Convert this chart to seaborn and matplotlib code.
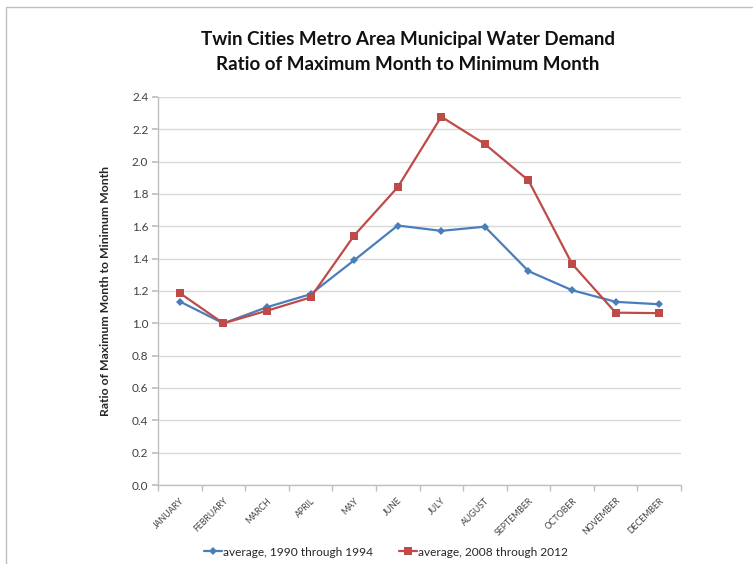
import matplotlib
matplotlib.use("Agg")
import matplotlib.pyplot as plt
from matplotlib.patches import Rectangle
from matplotlib.ticker import FixedLocator, MultipleLocator
import numpy as np
import pandas as pd
import seaborn as sns

months = ["JANUARY", "FEBRUARY", "MARCH", "APRIL", "MAY", "JUNE", "JULY",
          "AUGUST", "SEPTEMBER", "OCTOBER", "NOVEMBER", "DECEMBER"]
ratio_1990_1994 = [1.135, 1.00, 1.10, 1.18, 1.39, 1.605, 1.572, 1.598, 1.323, 1.205, 1.133, 1.118]
ratio_2008_2012 = [1.187, 1.00, 1.078, 1.16, 1.543, 1.842, 2.278, 2.109, 1.884, 1.368, 1.066, 1.063]
series_names = ["average, 1990 through 1994", "average, 2008 through 2012"]

df = pd.concat([
    pd.DataFrame({"month": np.arange(len(months)), "ratio": ratio_1990_1994, "series": series_names[0]}),
    pd.DataFrame({"month": np.arange(len(months)), "ratio": ratio_2008_2012, "series": series_names[1]}),
])

sns.set_theme(style="white")
plt.rcParams["font.family"] = ["Lato", "DejaVu Sans"]

fig = plt.figure(figsize=(7.53, 5.64), dpi=100)
ax = fig.add_axes([158 / 753, 1 - 485 / 564, (681 - 158) / 753, (485 - 97) / 564])

# outer chart frame
fig.patches.append(Rectangle((6 / 753, -0.1), 1.2, 1 - 7 / 564 + 0.1, transform=fig.transFigure,
                             fill=False, edgecolor="#BFBFBF", linewidth=1.0))

palette = {series_names[0]: "#4A7EBB", series_names[1]: "#BE4B48"}
sns.lineplot(data=df, x="month", y="ratio", hue="series", style="series",
             markers={series_names[0]: "D", series_names[1]: "s"}, dashes=False,
             palette=palette, linewidth=1.6, ax=ax, legend=False)
for line, ms in zip(ax.lines, [4, 5.5]):
    line.set_markersize(ms)
    line.set_markeredgewidth(0)

ax.set_xlim(-0.5, 11.5)
ax.set_ylim(0, 2.4)
ax.yaxis.set_major_locator(MultipleLocator(0.2))
ax.yaxis.set_major_formatter(matplotlib.ticker.FormatStrFormatter("%.1f"))
ax.grid(axis="y", color="#D9D9D9", linewidth=1.0)
ax.set_axisbelow(True)

ax.set_xticks(np.arange(len(months)))
ax.set_xticklabels(months, rotation=45, ha="right", va="top", rotation_mode="anchor",
                   fontsize=6.3, color="#404040")
ax.xaxis.set_minor_locator(FixedLocator(np.arange(-0.5, 12, 1)))
ax.tick_params(axis="x", which="major", length=0, pad=8)
ax.tick_params(axis="x", which="minor", length=4, color="#BFBFBF", bottom=True)
ax.tick_params(axis="y", length=4, color="#BFBFBF", left=True, labelsize=8.5, labelcolor="#404040", pad=3)

for side in ["top", "right"]:
    ax.spines[side].set_visible(False)
for side in ["left", "bottom"]:
    ax.spines[side].set_color("#BFBFBF")
    ax.spines[side].set_linewidth(1.0)

ax.set_xlabel("")
ax.set_ylabel("Ratio of Maximum Month to Minimum Month", fontsize=8.8, fontweight="bold", labelpad=15)

fig.text(408 / 753, 1 - 52 / 564, "Twin Cities Metro Area Municipal Water Demand\nRatio of Maximum Month to Minimum Month",
         ha="center", va="center", fontsize=13.5, fontweight="bold", linespacing=1.55, color="#111111")

handles = [plt.Line2D([], [], color=palette[n], marker=m, markersize=ms, markeredgewidth=0, linewidth=1.6)
           for n, m, ms in zip(series_names, ["D", "s"], [4, 5.5])]
fig.legend(handles, series_names, loc="center", bbox_to_anchor=(386 / 753, 1 - 552 / 564), ncol=2,
           frameon=False, fontsize=8.6, handlelength=1.5, handletextpad=0.1, columnspacing=2.2)

fig.savefig("out.png", dpi=100)
